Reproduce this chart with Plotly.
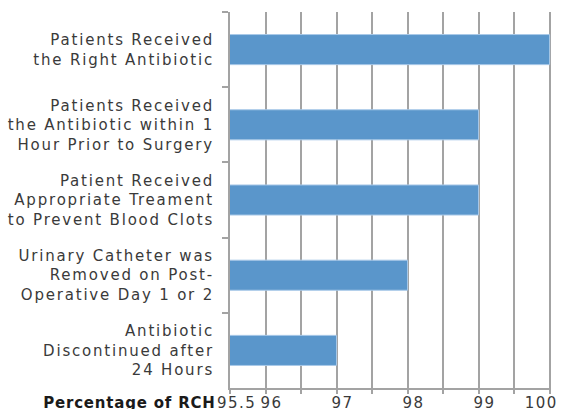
import plotly.graph_objects as go

categories = [
    "Patients Received<br>the Right Antibiotic",
    "Patients Received<br>the Antibiotic within 1<br>Hour Prior to Surgery",
    "Patient Received<br>Appropriate Treament<br>to Prevent Blood Clots",
    "Urinary Catheter was<br>Removed on Post-<br>Operative Day 1 or 2",
    "Antibiotic<br>Discontinued after<br>24 Hours",
]
values = [100, 99, 99, 98, 97]
grid_vals = [95.5, 96, 96.5, 97, 97.5, 98, 98.5, 99, 99.5, 100]
label_vals = [95.5, 96, 97, 98, 99, 100]
label_text = ["95.5", "96", "97", "98", "99", "100"]
x_title = "Percentage of RCH"

font_family = "DejaVu Sans, Open Sans, sans-serif"
text_color = "#3a3a3a"
grid_color = "#a3a3a3"

fig = go.Figure()
fig.add_trace(go.Bar(
    x=values,
    y=categories,
    orientation="h",
    marker=dict(color="#5a96cb", line=dict(color="#a9c9e8", width=1)),
    width=0.4,
    hoverinfo="x+y",
))

annotations = [dict(
    text="<b>" + x_title + "</b>",
    xref="paper", yref="paper",
    x=0, y=0,
    xanchor="right", yanchor="top",
    xshift=-19, yshift=-4,
    showarrow=False,
    font=dict(size=15, color="#1a1a1a", family=font_family),
)]
x_max = max(label_vals)
for v, t in zip(label_vals, label_text):
    last = v == x_max
    annotations.append(dict(
        text=t,
        xref="x", yref="paper",
        x=v, y=0,
        xanchor="right" if last else "center",
        yanchor="top",
        xshift=8 if last else 6,
        yshift=-4,
        showarrow=False,
        font=dict(size=15, color=text_color, family=font_family),
    ))

fig.update_layout(
    width=562,
    height=409,
    margin=dict(l=230, r=11, t=12, b=21),
    paper_bgcolor="white",
    plot_bgcolor="white",
    showlegend=False,
    font=dict(family=font_family, size=15, color=text_color),
    xaxis=dict(
        range=[95.5, 100.02],
        automargin=False,
        tickvals=grid_vals,
        showticklabels=False,
        showgrid=True,
        gridcolor=grid_color,
        gridwidth=2,
        zeroline=False,
        showline=True,
        linecolor=grid_color,
        linewidth=2,
        ticks="outside",
        ticklen=4,
        tickwidth=2,
        tickcolor=grid_color,
    ),
    yaxis=dict(
        autorange="reversed",
        automargin=False,
        showgrid=False,
        showline=True,
        linecolor=grid_color,
        linewidth=2,
        ticks="outside",
        tickson="boundaries",
        ticklen=6,
        tickwidth=2,
        tickcolor=grid_color,
        ticklabelstandoff=11,
        tickfont=dict(size=15, color=text_color),
    ),
    annotations=annotations,
)

post_js = """
document.body.style.margin='0';
document.body.style.overflow='hidden';
function spaceText(){
  document.querySelectorAll('.ytick text').forEach(function(t){t.style.letterSpacing='1.8px';});
  document.querySelectorAll('.annotation-text').forEach(function(t){
    t.style.letterSpacing = (t.textContent.length > 6) ? '0.8px' : '1.5px';
  });
}
spaceText();
setTimeout(spaceText, 50);
"""

fig.write_html("out.html", post_script=post_js, config={"displayModeBar": False})
